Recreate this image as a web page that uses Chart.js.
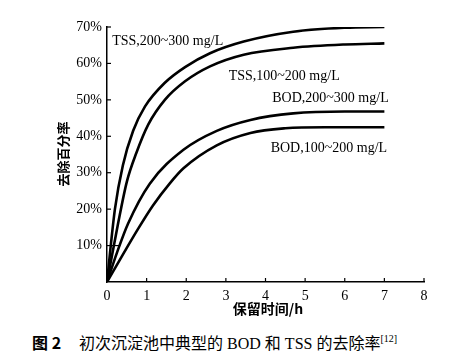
<!DOCTYPE html>
<html>
<head>
<meta charset="utf-8">
<script src="https://cdn.jsdelivr.net/npm/chart.js@4"></script>
<style>
  html, body { margin: 0; padding: 0; background: #fff; }
  #wrap { position: relative; width: 466px; height: 353px; }
  #caption {
    position: absolute; left: 32px; top: 330px; white-space: nowrap;
    font-family: "Liberation Serif", "Noto Sans CJK SC", serif; font-size: 16px; color: #000;
  }
  #caption b { font-family: "Noto Sans CJK SC", sans-serif; font-weight: bold; margin-right: 18px; }
  #caption sup { font-size: 10px; vertical-align: 7px; }
</style>
</head>
<body>
<div id="wrap">
  <canvas id="chart" width="466" height="320"></canvas>
  <div id="caption"><b>图 2</b>初次沉淀池中典型的 BOD 和 TSS 的去除率<sup>[12]</sup></div>
</div>
<script>
// 数据（保留时间 h / 去除百分率 %）
const tssHighX = [0, 0.2, 0.4, 0.66, 0.96, 1.46, 1.97, 2.6, 3.45, 4.7, 6.0, 7.0];
const tssHighY = [0, 20, 32, 41.5, 48.2, 54.7, 59, 62.8, 66, 68.7, 69.8, 70];
const tssLowX = [0, 0.27, 0.5, 0.74, 1.04, 1.46, 1.97, 2.6, 3.45, 4.7, 6.0, 7.0];
const tssLowY = [0, 15.5, 27.5, 35.4, 43.2, 50, 55.1, 59.2, 62.4, 64.3, 65.2, 65.5];
const bodHighX = [0, 0.25, 0.53, 1.08, 1.93, 2.77, 3.62, 4.7, 6.0, 7.0];
const bodHighY = [0, 8, 16, 27, 36.3, 41.5, 44.5, 46.3, 46.8, 46.8];
const bodLowX = [0, 0.4, 0.78, 1.16, 1.58, 1.93, 2.77, 3.62, 4.5, 5.5, 7.0];
const bodLowY = [0, 7.5, 14.5, 21, 27, 31.2, 37.5, 40.9, 42.2, 42.5, 42.5];

const seriesNames = ["TSS,200~300 mg/L", "TSS,100~200 mg/L", "BOD,200~300 mg/L", "BOD,100~200 mg/L"];
// 标签位置（数据坐标，左端 / 垂直中心）
const labelX = [0.13, 3.07, 4.17, 4.13];
const labelY = [66, 56.5, 50.4, 36.6];

const xTicks = [0, 1, 2, 3, 4, 5, 6, 7, 8];
const yTicks = [0, 10, 20, 30, 40, 50, 60, 70];

function toPoints(xs, ys) {
  return xs.map((x, i) => ({ x: x, y: ys[i] }));
}

const serif = "'Liberation Serif', 'Times New Roman', serif";

// 坐标轴内侧刻度、轴标题、曲线标注
const decorPlugin = {
  id: "decor",
  afterDraw(chart) {
    const ctx = chart.ctx;
    const xs = chart.scales.x, ys = chart.scales.y;
    const a = chart.chartArea;
    ctx.save();
    ctx.strokeStyle = "#000";
    ctx.lineWidth = 1.2;
    xTicks.forEach(v => {
      if (v === 0) return;
      const px = xs.getPixelForValue(v);
      ctx.beginPath(); ctx.moveTo(px, a.bottom); ctx.lineTo(px, a.bottom - 4); ctx.stroke();
    });
    yTicks.forEach(v => {
      if (v === 0) return;
      const py = ys.getPixelForValue(v);
      const len = v === 10 ? 13 : 4;   // 原图 10% 处刻度较长
      ctx.beginPath(); ctx.moveTo(a.left, py); ctx.lineTo(a.left + len, py); ctx.stroke();
    });

    ctx.fillStyle = "#000";
    ctx.font = "14px " + serif;
    ctx.textAlign = "left";
    ctx.textBaseline = "middle";
    seriesNames.forEach((t, i) => {
      ctx.fillText(t, xs.getPixelForValue(labelX[i]), ys.getPixelForValue(labelY[i]));
    });

    ctx.font = "bold 14px 'Noto Sans CJK SC', sans-serif";
    ctx.textAlign = "center";
    ctx.fillText("保留时间/h", 268, 309);
    ctx.font = "bold 13px 'Noto Sans CJK SC', sans-serif";
    ctx.translate(63, 154);
    ctx.rotate(-Math.PI / 2);
    ctx.fillText("去除百分率", 0, 0);
    ctx.restore();
  }
};

const lineStyle = {
  showLine: true,
  borderColor: "#000",
  borderWidth: 2.6,
  pointRadius: 0,
  cubicInterpolationMode: "monotone",
  fill: false
};

new Chart(document.getElementById("chart"), {
  type: "scatter",
  data: {
    datasets: [
      Object.assign({ label: seriesNames[0], data: toPoints(tssHighX, tssHighY) }, lineStyle),
      Object.assign({ label: seriesNames[1], data: toPoints(tssLowX, tssLowY) }, lineStyle),
      Object.assign({ label: seriesNames[2], data: toPoints(bodHighX, bodHighY) }, lineStyle),
      Object.assign({ label: seriesNames[3], data: toPoints(bodLowX, bodLowY) }, lineStyle)
    ]
  },
  options: {
    responsive: false,
    animation: false,
    layout: { padding: { left: 0, right: 42, top: 27, bottom: 0 } },
    plugins: { legend: { display: false }, tooltip: { enabled: false } },
    scales: {
      x: {
        type: "linear", min: 0, max: 8,
        afterBuildTicks: s => { s.ticks = xTicks.map(v => ({ value: v })); },
        afterFit: s => { s.height = 38; },
        grid: { display: false, drawTicks: false },
        border: { display: true, color: "#000", width: 1.5 },
        ticks: { color: "#000", font: { family: serif, size: 14 }, padding: 6 }
      },
      y: {
        type: "linear", min: 0, max: 70,
        afterBuildTicks: s => { s.ticks = yTicks.map(v => ({ value: v })); },
        afterFit: s => { s.width = 107; },
        grid: { display: false, drawTicks: false },
        border: { display: true, color: "#000", width: 1.5 },
        ticks: {
          color: "#000", font: { family: serif, size: 14 }, padding: 5,
          callback: v => (v === 0 ? "" : v + "%")
        }
      }
    }
  },
  plugins: [decorPlugin]
});
</script>
</body>
</html>
